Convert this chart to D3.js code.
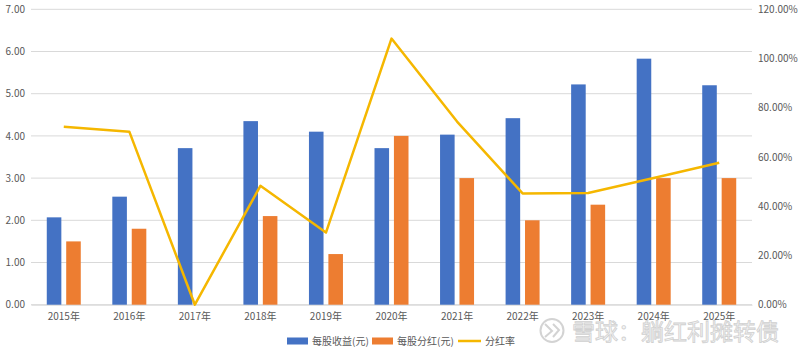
<!DOCTYPE html>
<html><head><meta charset="utf-8">
<script src="https://cdn.jsdelivr.net/npm/d3@7/dist/d3.min.js"></script>
<style>body{margin:0;background:#fff}svg{display:block}</style>
</head><body><svg id="c" width="800" height="356"></svg>
<script>
const categories = ["2015年","2016年","2017年","2018年","2019年","2020年","2021年","2022年","2023年","2024年","2025年"];
const eps = [2.07,2.56,3.71,4.35,4.10,3.71,4.03,4.42,5.22,5.83,5.20];
const dividend = [1.50,1.80,0,2.10,1.20,4.00,3.00,2.00,2.37,3.00,3.00];
const payout = [0.723,0.703,0,0.483,0.293,1.081,0.744,0.452,0.454,0.515,0.577];
const leftTicks = [0,1,2,3,4,5,6,7];
const rightTicks = [0,0.2,0.4,0.6,0.8,1.0,1.2];
const seriesNames = ["每股收益(元)","每股分红(元)","分红率"];

const svg = d3.select("#c");
const font = "'Microsoft YaHei','Noto Sans CJK SC',sans-serif";
const L = 31, R = 752, T = 9.3, B = 304.7;
const x = d3.scaleBand().domain(categories).range([L, R]).paddingInner(0).paddingOuter(0);
const yL = d3.scaleLinear().domain([0, 7]).range([B, T]);
const yR = d3.scaleLinear().domain([0, 1.2]).range([B, T]);
const sub = d3.scaleBand().domain([0,1]).range([-17, 17]).paddingInner(0.25);

// grid
svg.append("g").selectAll("line").data(leftTicks).join("line")
  .attr("x1", L).attr("x2", R).attr("y1", d => yL(d)).attr("y2", d => yL(d))
  .attr("stroke", "#d9d9d9").attr("stroke-width", 1);

// left axis
const gl = svg.append("g").attr("transform", `translate(${L},0)`)
  .call(d3.axisLeft(yL).tickValues(leftTicks).tickFormat(d3.format(".2f")).tickSize(0).tickPadding(6));
gl.select(".domain").remove();
gl.selectAll("text").attr("font-family", font).attr("font-size", 10).attr("fill", "#595959");

// right axis
const gr = svg.append("g").attr("transform", `translate(${R},0)`)
  .call(d3.axisRight(yR).tickValues(rightTicks).tickFormat(d3.format(".2%")).tickSize(0).tickPadding(6));
gr.select(".domain").remove();
gr.selectAll("text").attr("font-family", font).attr("font-size", 10).attr("fill", "#595959");

// bottom axis
const gb = svg.append("g").attr("transform", `translate(0,${B})`)
  .call(d3.axisBottom(x).tickSize(0).tickPadding(8));
gb.select(".domain").attr("stroke", "#d9d9d9");
gb.selectAll("text").attr("font-family", font).attr("font-size", 10).attr("fill", "#595959");

// bars
const cx = c => x(c) + x.bandwidth() / 2;
const colors = ["#4472C4", "#ED7D31", "#F5B700"];
[eps, dividend].forEach((vals, s) => {
  svg.append("g").selectAll("rect").data(categories.map((c, i) => ({c, v: vals[i]}))).join("rect")
    .attr("x", d => cx(d.c) + sub(s)).attr("width", sub.bandwidth())
    .attr("y", d => yL(d.v)).attr("height", d => B - yL(d.v))
    .attr("fill", colors[s]);
});

// line
const line = d3.line().x(d => cx(d.c)).y(d => yR(d.v));
svg.append("path").datum(categories.map((c, i) => ({c, v: payout[i]})))
  .attr("d", line).attr("fill", "none").attr("stroke", colors[2]).attr("stroke-width", 2.5)
  .attr("stroke-linejoin", "round");

// legend
const lg = svg.append("g").attr("font-family", font).attr("font-size", 10).attr("fill", "#595959");
const legendX = [287, 372, 458];
seriesNames.forEach((n, i) => {
  const g = lg.append("g").attr("transform", `translate(${legendX[i]},341)`);
  if (i < 2) g.append("rect").attr("x", 0).attr("y", -3.5).attr("width", 21).attr("height", 7).attr("fill", colors[i]);
  else g.append("line").attr("x1", 0).attr("x2", 23).attr("y1", 0).attr("y2", 0).attr("stroke", colors[2]).attr("stroke-width", 2.5);
  g.append("text").attr("x", i < 2 ? 25 : 27).attr("y", 3.5).text(n);
});

// watermark
const wm = svg.append("g").attr("opacity", 0.85);
wm.append("circle").attr("cx", 552).attr("cy", 330.5).attr("r", 11.5).attr("fill", "none").attr("stroke", "#cccccc").attr("stroke-width", 2);
wm.append("path").attr("d", "M545,324 L552,331 L545,337 M553,324 L559,330 L553,337").attr("fill","none").attr("stroke","#cccccc").attr("stroke-width",2);
wm.append("text").attr("x", 572).attr("y", 340).attr("font-family", font).attr("font-size", 23)
  .attr("fill", "#f4f4f4").attr("stroke", "#c8c8c8").attr("stroke-width", 0.8).text("雪球：躺红利摊转债");
</script></body></html>
